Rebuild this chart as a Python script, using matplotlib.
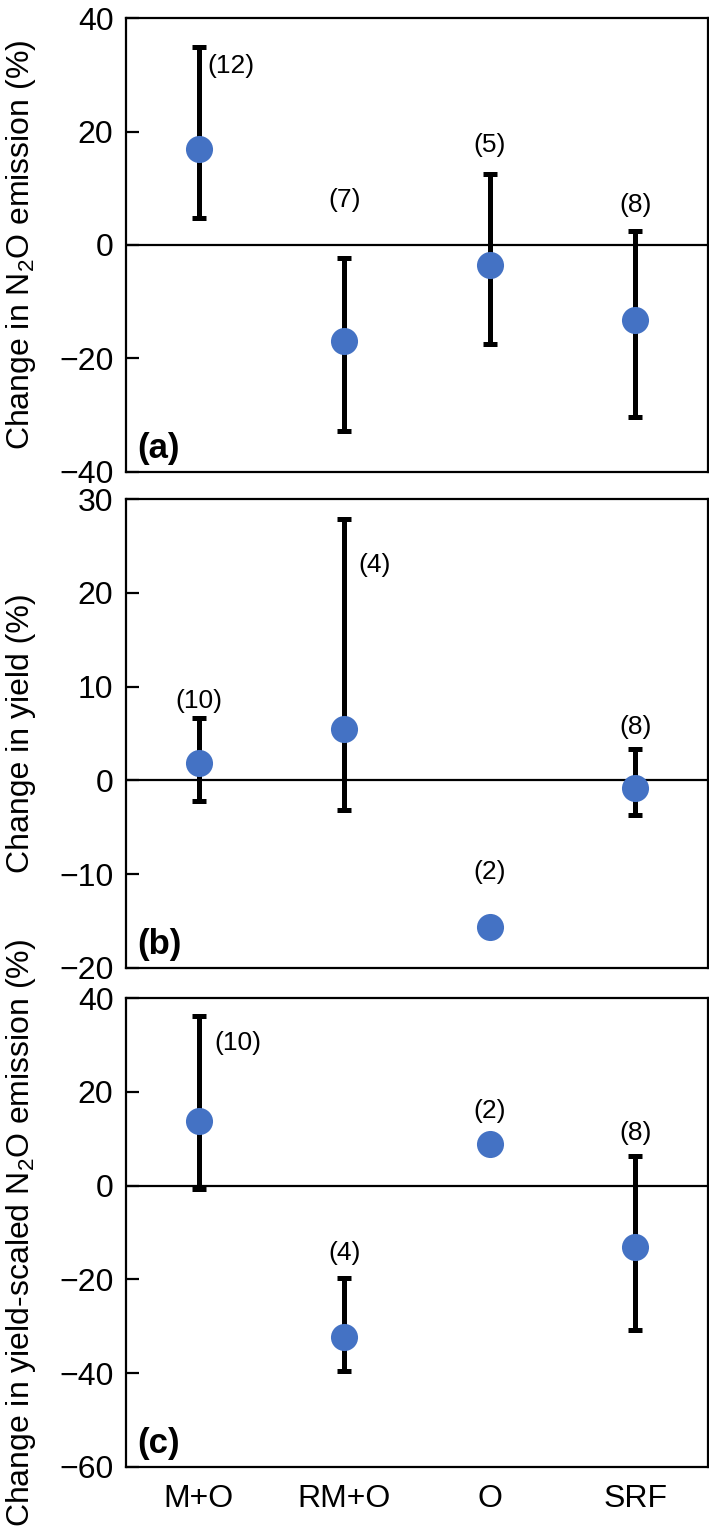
import numpy as np
import matplotlib
matplotlib.use("Agg")
import matplotlib.pyplot as plt

plt.rcParams['font.family'] = ['Liberation Sans', 'DejaVu Sans']
plt.rcParams['mathtext.fontset'] = 'custom'
plt.rcParams['mathtext.rm'] = 'Liberation Sans'
plt.rcParams['mathtext.it'] = 'Liberation Sans:italic'
plt.rcParams['mathtext.bf'] = 'Liberation Sans:bold'
plt.rcParams['axes.unicode_minus'] = True

nan = np.nan
categories = ['M+O', 'RM+O', 'O', 'SRF']

# Panel (a): change in N2O emission (%)
emission_mean = [17.0, -17.0, -3.6, -13.2]
emission_upper = [35.0, -2.3, 12.5, 2.4]
emission_lower = [4.8, -32.8, -17.5, -30.3]
emission_n = ['(12)', '(7)', '(5)', '(8)']

# Panel (b): change in yield (%)
yield_mean = [1.9, 5.5, -15.6, -0.8]
yield_upper = [6.6, 27.9, nan, 3.3]
yield_lower = [-2.2, -3.2, nan, -3.7]
yield_n = ['(10)', '(4)', '(2)', '(8)']

# Panel (c): change in yield-scaled N2O emission (%)
scaled_mean = [13.8, -32.2, 8.9, -13.1]
scaled_upper = [36.2, -19.8, nan, 6.4]
scaled_lower = [-0.8, -39.5, nan, -30.8]
scaled_n = ['(10)', '(4)', '(2)', '(8)']

panels = [
    dict(mean=emission_mean, up=emission_upper, lo=emission_lower, n=emission_n,
         ylim=(-40, 40), yticks=[-40, -20, 0, 20, 40],
         ylabel='Change in N$_2$O emission (%)', tag='(a)',
         rect=[0.1777, 0.691, 0.821, 0.297],
         npos=[(1.06, 31.5, 'left'), (2, 8, 'center'), (3, 17.7, 'center'), (4, 7, 'center')]),
    dict(mean=yield_mean, up=yield_upper, lo=yield_lower, n=yield_n,
         ylim=(-20, 30), yticks=[-20, -10, 0, 10, 20, 30],
         ylabel='Change in yield (%)', tag='(b)',
         rect=[0.1777, 0.3657, 0.821, 0.3073],
         npos=[(1, 8.5, 'center'), (2.1, 23, 'left'), (3, -9.8, 'center'), (4, 5.7, 'center')]),
    dict(mean=scaled_mean, up=scaled_upper, lo=scaled_lower, n=scaled_n,
         ylim=(-60, 40), yticks=[-60, -40, -20, 0, 20, 40],
         ylabel='Change in yield-scaled N$_2$O emission (%)', tag='(c)',
         rect=[0.1777, 0.0387, 0.821, 0.3073],
         npos=[(1.11, 30.3, 'left'), (2, -14.3, 'center'), (3, 16, 'center'), (4, 11.3, 'center')]),
]

fig = plt.figure(figsize=(7.09, 15.26), dpi=100)
x = np.arange(1, len(categories) + 1)

for i, p in enumerate(panels):
    ax = fig.add_axes(p['rect'])
    mean = np.array(p['mean'])
    up = np.array(p['up'])
    lo = np.array(p['lo'])
    ok = np.isfinite(up)
    ax.axhline(0, color='black', lw=1.6, zorder=1)
    ax.errorbar(x[ok], mean[ok], yerr=[mean[ok] - lo[ok], up[ok] - mean[ok]],
                fmt='none', ecolor='black', elinewidth=3.6, capsize=5, capthick=3.6,
                zorder=2)
    ax.plot(x, mean, 'o', color='#4472C4', ms=19.5, mec='none', zorder=3)
    for (tx, ty, ha), lab in zip(p['npos'], p['n']):
        ax.text(tx, ty, lab, ha=ha, va='center', fontsize=19)
    ax.text(0.02, 0.05, p['tag'], transform=ax.transAxes, ha='left', va='center',
            fontsize=25, fontweight='bold')
    ax.set_xlim(0.5, 4.5)
    ax.set_ylim(*p['ylim'])
    ax.set_yticks(p['yticks'])
    ax.tick_params(axis='y', direction='in', length=9, width=1.6, labelsize=23, pad=9)
    ax.tick_params(axis='x', length=0, labelsize=23, pad=12)
    if i < 2:
        ax.set_xticks([])
    else:
        ax.set_xticks(x)
        ax.set_xticklabels(categories)
    for s in ax.spines.values():
        s.set_linewidth(1.6)
    fig.text(21 / 709, p['rect'][1] + p['rect'][3] / 2, p['ylabel'], rotation=90,
             ha='center', va='center', fontsize=23)

fig.savefig('out.png', dpi=100)
